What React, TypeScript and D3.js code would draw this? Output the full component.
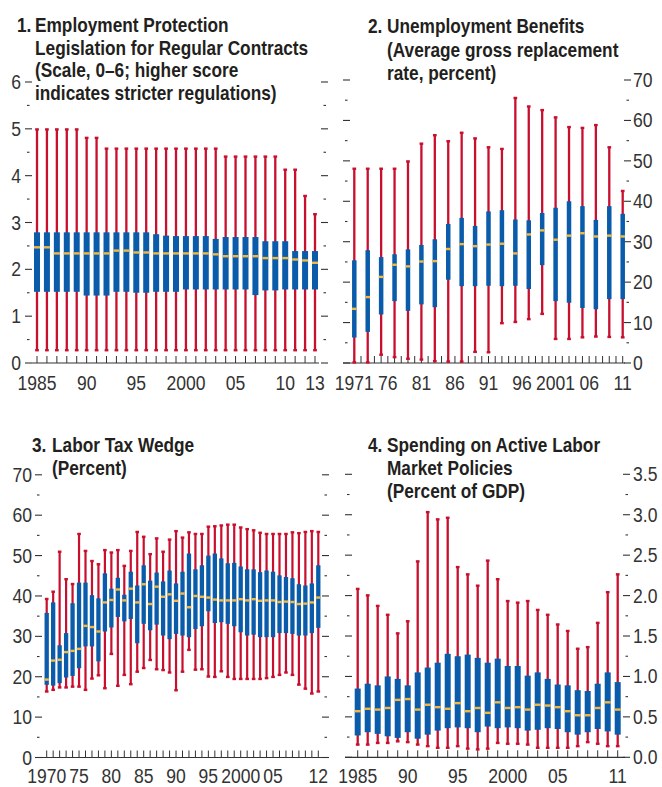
import React from 'react';
import * as d3 from 'd3';

const RED = '#c8102e';
const BLUE = '#0a5cab';
const GOLD = '#f4b942';
const INK = '#231f20';
const AX = '#333333';
const FONT = '"Liberation Sans", Arial, Helvetica, sans-serif';

// ---------- Panel 1: Employment Protection Legislation (1985–2013)
const p1Years = d3.range(1985, 2014);
const p1Max = [5.0, 5.0, 5.0, 5.0, 5.0, 4.82, 4.82, 4.59, 4.59, 4.59, 4.59, 4.59, 4.59, 4.59, 4.59, 4.59, 4.59, 4.59, 4.59, 4.42, 4.42, 4.42, 4.42, 4.42, 4.42, 4.14, 4.14, 3.58, 3.19];
const p1Q3 = [2.79, 2.79, 2.79, 2.79, 2.79, 2.79, 2.79, 2.79, 2.79, 2.79, 2.79, 2.79, 2.75, 2.72, 2.71, 2.71, 2.71, 2.71, 2.65, 2.69, 2.69, 2.69, 2.69, 2.60, 2.60, 2.60, 2.39, 2.39, 2.39];
const p1Med = [2.47, 2.47, 2.34, 2.34, 2.34, 2.34, 2.34, 2.34, 2.40, 2.40, 2.36, 2.36, 2.34, 2.34, 2.34, 2.34, 2.34, 2.34, 2.32, 2.28, 2.28, 2.28, 2.28, 2.24, 2.24, 2.24, 2.21, 2.19, 2.14];
const p1Q1 = [1.52, 1.52, 1.52, 1.52, 1.52, 1.44, 1.44, 1.44, 1.52, 1.52, 1.50, 1.50, 1.52, 1.52, 1.52, 1.57, 1.57, 1.57, 1.57, 1.57, 1.57, 1.57, 1.45, 1.55, 1.55, 1.57, 1.57, 1.57, 1.57];
const p1Min = [0.26, 0.26, 0.26, 0.26, 0.26, 0.26, 0.26, 0.26, 0.26, 0.26, 0.26, 0.26, 0.26, 0.26, 0.26, 0.26, 0.26, 0.26, 0.26, 0.26, 0.26, 0.26, 0.26, 0.26, 0.26, 0.26, 0.26, 0.26, 0.26];
const p1Labels: [number, string][] = [[1985, '1985'], [1990, '90'], [1995, '95'], [2000, '2000'], [2005, '05'], [2010, '10'], [2013, '13']];

// ---------- Panel 2: Unemployment Benefits (1971–2011, every 2 years)
const p2Years = d3.range(1971, 2012, 2);
const p2TickYears = d3.range(1971, 2012);
const p2Max = [48.2, 48.2, 48.2, 48.2, 50.0, 54.4, 56.5, 55.0, 57.1, 55.7, 53.5, 53.1, 65.7, 63.6, 62.7, 60.9, 58.5, 58.3, 59.0, 53.5, 42.7];
const p2Q3 = [25.4, 27.9, 26.2, 26.9, 28.1, 29.2, 30.6, 34.4, 35.9, 33.9, 37.5, 37.8, 35.5, 35.3, 37.1, 38.4, 40.0, 38.8, 35.4, 38.8, 36.9];
const p2Med = [13.4, 16.3, 21.3, 24.3, 23.9, 25.1, 25.2, 28.2, 29.4, 28.9, 29.3, 29.5, 27.1, 31.8, 32.8, 30.5, 31.5, 32.1, 31.3, 31.5, 31.3];
const p2Q1 = [6.3, 7.7, 12.0, 15.3, 12.9, 14.5, 13.8, 20.6, 19.0, 19.0, 19.1, 19.0, 19.1, 18.3, 24.2, 15.3, 14.9, 13.6, 13.3, 15.8, 15.8];
const p2Min = [0.0, 0.0, 1.9, 1.3, 0.9, 0.7, 0.3, 0.2, 0.2, 2.6, 2.5, 9.7, 10.0, 10.7, 12.0, 5.8, 5.8, 6.2, 6.4, 6.3, 6.2];
const p2Labels: [number, string][] = [[1971, '1971'], [1976, '76'], [1981, '81'], [1986, '86'], [1991, '91'], [1996, '96'], [2001, '2001'], [2006, '06'], [2011, '11']];

// ---------- Panel 3: Labor Tax Wedge (1970–2012)
const p3Years = d3.range(1970, 2013);
const p3Max = [39.4, 41.2, 51.1, 44.3, 43.1, 55.5, 51.3, 48.8, 48.0, 51.5, 50.9, 51.5, 47.6, 51.3, 56.0, 54.8, 50.5, 54.4, 51.1, 54.1, 56.2, 54.6, 55.9, 55.5, 55.5, 57.3, 57.4, 57.6, 57.8, 57.8, 57.1, 56.7, 56.4, 55.8, 55.5, 55.5, 55.5, 55.5, 55.9, 55.7, 56.0, 56.2, 56.0];
const p3Q3 = [35.8, 38.4, 27.8, 30.8, 38.2, 43.3, 43.3, 40.2, 39.4, 45.6, 41.8, 44.5, 40.3, 46.0, 42.6, 47.6, 43.8, 45.8, 43.6, 46.3, 43.1, 46.0, 50.5, 46.6, 47.6, 50.0, 50.5, 49.3, 48.1, 48.2, 47.3, 46.6, 46.6, 45.9, 46.3, 46.0, 45.1, 44.7, 44.4, 42.9, 42.6, 43.1, 47.6];
const p3Med = [19.3, 24.0, 24.2, 26.1, 26.4, 26.9, 32.6, 32.3, 31.2, 38.4, 39.0, 41.6, 38.9, 41.8, 38.4, 42.9, 38.0, 42.3, 39.8, 40.4, 38.8, 40.6, 37.2, 40.0, 39.8, 39.6, 39.1, 38.9, 38.9, 38.9, 39.2, 38.9, 39.2, 38.8, 38.9, 38.9, 38.5, 38.6, 38.5, 38.0, 38.1, 38.4, 39.6];
const p3Q1 = [18.0, 17.8, 18.4, 19.8, 20.2, 22.1, 27.5, 27.5, 23.8, 31.2, 32.2, 34.8, 33.7, 34.3, 28.3, 33.1, 31.5, 32.9, 30.2, 29.3, 30.6, 30.2, 29.8, 31.8, 32.5, 36.2, 33.3, 33.5, 33.1, 32.5, 31.0, 30.2, 30.4, 29.8, 29.8, 29.8, 30.8, 30.8, 30.6, 30.2, 30.2, 30.8, 32.1];
const p3Min = [16.2, 16.6, 17.2, 17.2, 17.4, 17.4, 16.6, 19.4, 20.2, 17.0, 25.5, 17.6, 20.3, 18.0, 21.1, 22.0, 24.0, 21.7, 21.5, 20.9, 16.5, 21.1, 26.5, 21.6, 21.7, 19.9, 19.8, 21.2, 19.8, 19.3, 19.3, 19.3, 19.3, 19.3, 19.5, 19.8, 20.3, 20.9, 20.3, 17.9, 16.9, 15.7, 16.2];
const p3Labels: [number, string][] = [[1970, '1970'], [1975, '75'], [1980, '80'], [1985, '85'], [1990, '90'], [1995, '95'], [2000, '2000'], [2005, '05'], [2012, '12']];

// ---------- Panel 4: Spending on Active Labor Market Policies (1985–2011)
const p4Years = d3.range(1985, 2012);
const p4Max = [2.09, 2.01, 1.88, 1.77, 1.54, 1.69, 2.43, 3.04, 2.95, 2.97, 2.36, 2.27, 2.13, 2.44, 2.21, 1.94, 1.92, 1.94, 1.83, 1.77, 1.65, 1.57, 1.35, 1.37, 1.67, 2.05, 2.27];
const p4Q3 = [0.85, 0.91, 0.89, 1.00, 0.97, 0.89, 1.05, 1.11, 1.17, 1.28, 1.25, 1.27, 1.23, 1.17, 1.22, 1.13, 1.13, 1.01, 1.05, 0.97, 0.90, 0.89, 0.83, 0.82, 0.91, 1.05, 0.93];
const p4Med = [0.57, 0.60, 0.59, 0.61, 0.71, 0.72, 0.59, 0.65, 0.62, 0.60, 0.67, 0.57, 0.61, 0.55, 0.68, 0.61, 0.62, 0.59, 0.65, 0.64, 0.62, 0.57, 0.52, 0.52, 0.61, 0.68, 0.59];
const p4Q1 = [0.27, 0.31, 0.29, 0.26, 0.24, 0.31, 0.23, 0.28, 0.33, 0.36, 0.37, 0.36, 0.31, 0.38, 0.36, 0.37, 0.36, 0.33, 0.34, 0.36, 0.35, 0.31, 0.28, 0.31, 0.35, 0.32, 0.28];
const p4Min = [0.15, 0.15, 0.17, 0.17, 0.19, 0.18, 0.15, 0.13, 0.11, 0.11, 0.13, 0.10, 0.09, 0.10, 0.17, 0.16, 0.16, 0.15, 0.11, 0.11, 0.11, 0.11, 0.13, 0.18, 0.16, 0.13, 0.13];
const p4Labels: [number, string][] = [[1985, '1985'], [1990, '90'], [1995, '95'], [2000, '2000'], [2005, '05'], [2011, '11']];

// condensed text: regular face squeezed horizontally
function CText(props: {
  x: number;
  y: number;
  anchor?: 'start' | 'middle' | 'end';
  size: number;
  bold?: boolean;
  sx: number;
  fill: string;
  dy?: string;
  children: React.ReactNode;
}) {
  return (
    <text
      transform={`translate(${props.x},${props.y}) scale(${props.sx},1)`}
      textAnchor={props.anchor || 'start'}
      dy={props.dy}
      fontFamily={FONT}
      fontWeight={props.bold ? 'bold' : 'normal'}
      fontSize={props.size}
      fill={props.fill}
    >
      {props.children}
    </text>
  );
}

type PanelProps = {
  years: number[];
  tickYears: number[];
  maxV: number[];
  q3: number[];
  med: number[];
  q1: number[];
  minV: number[];
  xDomain: [number, number];
  xRange: [number, number];
  yMax: number;
  yRange: [number, number];
  step: number;
  axisX: [number, number];
  leftTickX: number;
  rightTickX: number;
  labelSide: 'left' | 'right';
  labelX: number;
  fmt: (v: number) => string;
  xLabels: [number, string][];
  xLabelY: number;
  boxW: number;
  whiskW: number;
  title: { num: string; numX: number; textX: number; lines: string[]; y0: number; dy: number };
};

const TITLE_SIZE = 19.5;
const TITLE_SX = 0.885;
const LAB_SIZE = 19.5;
const LAB_SX = 0.9;

function Panel(p: PanelProps) {
  const x = d3.scaleLinear().domain(p.xDomain).range(p.xRange);
  const y = d3.scaleLinear().domain([0, p.yMax]).range(p.yRange);
  const nMaj = Math.round(p.yMax / p.step);
  const majors = d3.range(0, nMaj + 1).map((i) => i * p.step);
  const minors = d3.range(0, nMaj).map((i) => (i + 0.5) * p.step);
  const base = y(0);
  const capW = p.whiskW + 1.4;
  return (
    <g>
      {/* title */}
      <CText x={p.title.numX} y={p.title.y0} size={TITLE_SIZE} bold sx={TITLE_SX} fill={INK}>
        {p.title.num}
      </CText>
      {p.title.lines.map((l, i) => (
        <CText key={i} x={p.title.textX} y={p.title.y0 + i * p.title.dy} size={TITLE_SIZE} bold sx={TITLE_SX} fill={INK}>
          {l}
        </CText>
      ))}
      {/* y ticks both sides */}
      {majors.map((v) => (
        <g key={'M' + v}>
          <line x1={p.leftTickX} x2={p.leftTickX + 7} y1={y(v)} y2={y(v)} stroke={AX} strokeWidth={1.1} />
          <line x1={p.rightTickX} x2={p.rightTickX + 7} y1={y(v)} y2={y(v)} stroke={AX} strokeWidth={1.1} />
          <CText
            x={p.labelX}
            y={y(v)}
            dy="0.36em"
            anchor={p.labelSide === 'left' ? 'end' : 'start'}
            size={LAB_SIZE}
            sx={LAB_SX}
            fill={AX}
          >
            {p.fmt(v)}
          </CText>
        </g>
      ))}
      {minors.map((v) => (
        <g key={'m' + v}>
          <line x1={p.leftTickX + 2} x2={p.leftTickX + 4.5} y1={y(v)} y2={y(v)} stroke={AX} strokeWidth={1.1} />
          <line x1={p.rightTickX + 2.5} x2={p.rightTickX + 5} y1={y(v)} y2={y(v)} stroke={AX} strokeWidth={1.1} />
        </g>
      ))}
      {/* x axis */}
      <line x1={p.axisX[0]} x2={p.axisX[1]} y1={base} y2={base} stroke={AX} strokeWidth={1.2} />
      {p.tickYears.map((yr) => (
        <line key={'t' + yr} x1={x(yr)} x2={x(yr)} y1={base} y2={base - 7} stroke={AX} strokeWidth={1} />
      ))}
      {p.xLabels.map(([yr, s]) => (
        <CText key={'xl' + yr} x={x(yr)} y={p.xLabelY} anchor="middle" size={LAB_SIZE} sx={LAB_SX} fill={AX}>
          {s}
        </CText>
      ))}
      {/* boxes */}
      {p.years.map((yr, i) => {
        const cx = x(yr);
        return (
          <g key={'b' + yr}>
            <rect x={cx - p.whiskW / 2} y={y(p.maxV[i])} width={p.whiskW} height={y(p.minV[i]) - y(p.maxV[i])} fill={RED} />
            <rect x={cx - capW / 2} y={y(p.maxV[i]) - 0.6} width={capW} height={2.4} fill={RED} />
            <rect x={cx - capW / 2} y={y(p.minV[i]) - 1.8} width={capW} height={2.4} fill={RED} />
            <rect x={cx - p.boxW / 2} y={y(p.q3[i])} width={p.boxW} height={y(p.q1[i]) - y(p.q3[i])} fill={BLUE} />
            <rect x={cx - p.boxW / 2} y={y(p.med[i]) - 1.2} width={p.boxW} height={2.4} fill={GOLD} />
          </g>
        );
      })}
    </g>
  );
}

export default function App() {
  const fInt = (v: number) => String(Math.round(v));
  const f1 = d3.format('.1f');
  return (
    <svg width={662} height={787} style={{ position: 'absolute', left: 0, top: 0, background: '#fff' }}>
      <rect width={662} height={787} fill="#fff" />
      <Panel
        years={p1Years}
        tickYears={p1Years}
        maxV={p1Max}
        q3={p1Q3}
        med={p1Med}
        q1={p1Q1}
        minV={p1Min}
        xDomain={[1985, 2013]}
        xRange={[37, 315]}
        yMax={6}
        yRange={[363, 82]}
        step={1}
        axisX={[32, 319]}
        leftTickX={25}
        rightTickX={321}
        labelSide="left"
        labelX={21}
        fmt={fInt}
        xLabels={p1Labels}
        xLabelY={390}
        boxW={6}
        whiskW={2.3}
        title={{ num: '1.', numX: 17, textX: 35, y0: 32, dy: 22.7, lines: ['Employment Protection', 'Legislation for Regular Contracts', '(Scale, 0–6; higher score', 'indicates stricter regulations)'] }}
      />
      <Panel
        years={p2Years}
        tickYears={p2TickYears}
        maxV={p2Max}
        q3={p2Q3}
        med={p2Med}
        q1={p2Q1}
        minV={p2Min}
        xDomain={[1971, 2011]}
        xRange={[354.3, 622.7]}
        yMax={70}
        yRange={[363, 80]}
        step={10}
        axisX={[343, 625]}
        leftTickX={343}
        rightTickX={624}
        labelSide="right"
        labelX={633}
        fmt={fInt}
        xLabels={p2Labels}
        xLabelY={390}
        boxW={4.5}
        whiskW={2.3}
        title={{ num: '2.', numX: 368, textX: 387, y0: 33, dy: 23.5, lines: ['Unemployment Benefits', '(Average gross replacement', 'rate, percent)'] }}
      />
      <Panel
        years={p3Years}
        tickYears={p3Years}
        maxV={p3Max}
        q3={p3Q3}
        med={p3Med}
        q1={p3Q1}
        minV={p3Min}
        xDomain={[1970, 2012]}
        xRange={[46.7, 318.3]}
        yMax={70}
        yRange={[757.5, 474.8]}
        step={10}
        axisX={[36, 323]}
        leftTickX={35}
        rightTickX={322}
        labelSide="left"
        labelX={32}
        fmt={fInt}
        xLabels={p3Labels}
        xLabelY={783}
        boxW={4.3}
        whiskW={2.2}
        title={{ num: '3.', numX: 32, textX: 52, y0: 452, dy: 23, lines: ['Labor Tax Wedge', '(Percent)'] }}
      />
      <Panel
        years={p4Years}
        tickYears={p4Years}
        maxV={p4Max}
        q3={p4Q3}
        med={p4Med}
        q1={p4Q1}
        minV={p4Min}
        xDomain={[1985, 2011]}
        xRange={[357.7, 617.7]}
        yMax={3.5}
        yRange={[757.3, 474.3]}
        step={0.5}
        axisX={[345, 625]}
        leftTickX={345}
        rightTickX={623}
        labelSide="right"
        labelX={633}
        fmt={f1}
        xLabels={p4Labels}
        xLabelY={783}
        boxW={6}
        whiskW={2.3}
        title={{ num: '4.', numX: 368, textX: 387, y0: 452, dy: 23, lines: ['Spending on Active Labor', 'Market Policies', '(Percent of GDP)'] }}
      />
    </svg>
  );
}
